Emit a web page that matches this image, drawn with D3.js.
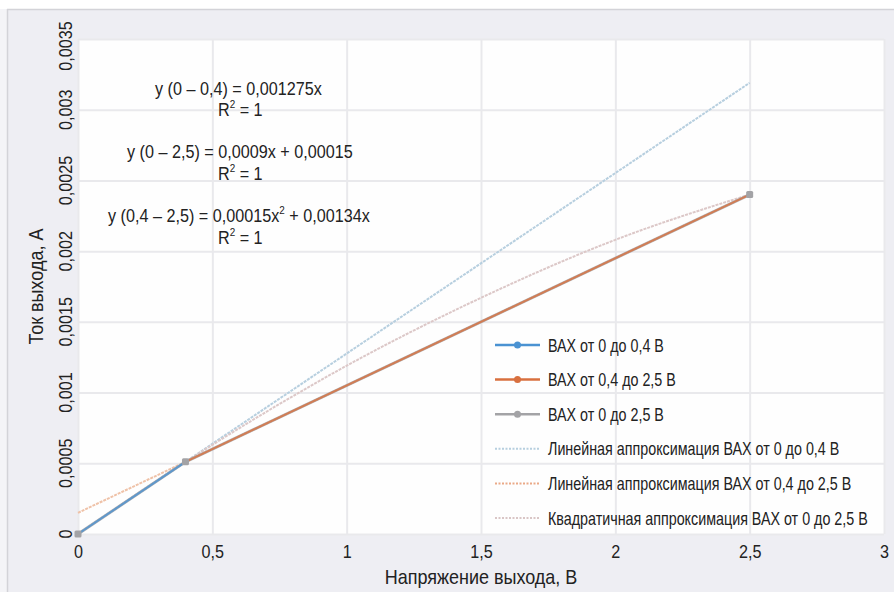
<!DOCTYPE html>
<html>
<head>
<meta charset="utf-8">
<script src="https://cdn.jsdelivr.net/npm/d3@7"></script>
<style>
  body { margin: 0; background: #fff; }
  svg text { font-family: "Liberation Sans", Arial, sans-serif; fill: #222; }
</style>
</head>
<body>
<svg id="chart"></svg>
<script>
// measured points (voltage, V / current, A)
let voltage = [0, 0.4, 2.5]
let current = [0, 0.00051, 0.0024]

// trendlines
let trendBlueX = [0, 2.5]
let trendBlueY = [0, 0.00319]
let trendOrangeX = [0, 2.5]
let trendOrangeY = [0.00015, 0.0024]
let trendQuadX = [0, 0.5, 1, 1.5, 2, 2.5]
let trendQuadY = [0, 0.00063, 0.00119, 0.00167, 0.00208, 0.0024]

let xTicks = [0, 0.5, 1, 1.5, 2, 2.5, 3]
let xTickLabels = ["0", "0,5", "1", "1,5", "2", "2,5", "3"]
let yTicks = [0, 0.0005, 0.001, 0.0015, 0.002, 0.0025, 0.003, 0.0035]
let yTickLabels = ["0", "0,0005", "0,001", "0,0015", "0,002", "0,0025", "0,003", "0,0035"]

let legendLabels = [
  "ВАХ от 0 до 0,4 В",
  "ВАХ от 0,4 до 2,5 В",
  "ВАХ от 0 до 2,5 В",
  "Линейная аппроксимация ВАХ от 0 до 0,4 В",
  "Линейная аппроксимация ВАХ от 0,4 до 2,5 В",
  "Квадратичная аппроксимация ВАХ от 0 до 2,5 В"
]

let
  width = 894,
  height = 592,
  plotLeft = 78,
  plotRight = 884,
  plotTop = 39,
  plotBottom = 534,
  fs = 18

let blue = "#4a92d2", orange = "#d8703f", gray = "#a3a3a6"

let svg = d3.select("#chart")
  .attr("width", width)
  .attr("height", height)

// page frame
svg.append("rect").attr("width", width).attr("height", height).attr("fill", "#eeeef3")
svg.append("rect").attr("width", width).attr("height", 9).attr("fill", "#ffffff")
svg.append("rect").attr("y", 9).attr("width", 7).attr("height", height).attr("fill", "#f4f4f7")
svg.append("line").attr("x1", 7).attr("x2", width).attr("y1", 9.5).attr("y2", 9.5)
  .attr("stroke", "#d3d3d8").attr("stroke-width", 1.5)
svg.append("line").attr("x1", 7.5).attr("x2", 7.5).attr("y1", 9).attr("y2", height)
  .attr("stroke", "#d3d3d8").attr("stroke-width", 1.5)

let x = d3.scaleLinear().domain([0, 3]).range([plotLeft, plotRight])
let y = d3.scaleLinear().domain([0, 0.0035]).range([plotBottom, plotTop])

svg.append("rect")
  .attr("x", plotLeft).attr("y", plotTop)
  .attr("width", plotRight - plotLeft).attr("height", plotBottom - plotTop)
  .attr("fill", "#fefefe")

// grid
svg.append("g")
  .attr("transform", `translate(0,${plotBottom})`)
  .call(d3.axisBottom(x).tickValues(xTicks).tickSize(-(plotBottom - plotTop)).tickFormat(""))
  .call(g => g.select(".domain").remove())
  .call(g => g.selectAll("line").attr("stroke", "#e9e9ec").attr("stroke-width", 2))

svg.append("g")
  .attr("transform", `translate(${plotLeft},0)`)
  .call(d3.axisLeft(y).tickValues(yTicks).tickSize(-(plotRight - plotLeft)).tickFormat(""))
  .call(g => g.select(".domain").remove())
  .call(g => g.selectAll("line").attr("stroke", "#e9e9ec").attr("stroke-width", 2))

// tick labels
svg.append("g")
  .attr("transform", `translate(0,${plotBottom})`)
  .call(d3.axisBottom(x).tickValues(xTicks).tickSize(0).tickPadding(0)
    .tickFormat((d, i) => xTickLabels[i]))
  .call(g => g.select(".domain").remove())
  .call(g => g.selectAll("text").attr("y", 24).attr("dy", 0)
    .attr("font-size", fs).attr("fill", "#222"))

svg.append("g").selectAll("text")
  .data(yTicks).enter()
  .append("text")
  .attr("transform", d => `translate(72,${Math.max(y(d), 46)}) rotate(-90)`)
  .attr("text-anchor", "middle")
  .attr("font-size", fs)
  .text((d, i) => yTickLabels[i])

// axis titles
svg.append("text")
  .attr("class", "title")
  .attr("x", (plotLeft + plotRight) / 2).attr("y", 584)
  .attr("text-anchor", "middle").attr("font-size", 20)
  .text("Напряжение выхода, В")

svg.append("text")
  .attr("class", "title")
  .attr("transform", `translate(43,${(plotTop + plotBottom) / 2}) rotate(-90)`)
  .attr("text-anchor", "middle").attr("font-size", 20)
  .text("Ток выхода, А")

let line = d3.line().x(d => x(d[0])).y(d => y(d[1]))
let zip = (xs, ys) => xs.map((v, i) => [v, ys[i]])

// trendlines
let trends = [
  {pts: zip(trendBlueX, trendBlueY), color: "#b7cfdf", curve: d3.curveLinear},
  {pts: zip(trendOrangeX, trendOrangeY), color: "#efc2a8", curve: d3.curveLinear},
  {pts: zip(trendQuadX, trendQuadY), color: "#dcc8c8", curve: d3.curveMonotoneX}
]

svg.append("g").selectAll("path")
  .data(trends).enter()
  .append("path")
  .attr("d", d => line.curve(d.curve)(d.pts))
  .attr("fill", "none")
  .attr("stroke", d => d.color)
  .attr("stroke-width", 2)
  .attr("stroke-dasharray", "3,1")

line.curve(d3.curveLinear)

// measured series
let all = zip(voltage, current)
let series = [
  {pts: all, color: gray, width: 3},
  {pts: all.slice(0, 2), color: blue, width: 2},
  {pts: all.slice(1, 3), color: orange, width: 2}
]

svg.append("g").selectAll("path")
  .data(series).enter()
  .append("path")
  .attr("d", d => line(d.pts))
  .attr("fill", "none")
  .attr("stroke", d => d.color)
  .attr("stroke-opacity", 0.8)
  .attr("stroke-width", d => d.width)

svg.append("g").selectAll("rect")
  .data(all).enter()
  .append("rect")
  .attr("x", d => x(d[0]) - 3.5)
  .attr("y", d => y(d[1]) - 3.5)
  .attr("width", 7).attr("height", 7)
  .attr("rx", 1.5)
  .attr("fill", gray)

// equations
let eq = svg.append("g").attr("font-size", fs)
let eqRows = [
  {x: 155, y: 95, parts: [["y (0 – 0,4) = 0,001275x"]]},
  {x: 218, y: 116, parts: [["R"], ["2", "sup"], [" = 1"]]},
  {x: 127, y: 158, parts: [["y (0 – 2,5) = 0,0009x + 0,00015"]]},
  {x: 218, y: 180, parts: [["R"], ["2", "sup"], [" = 1"]]},
  {x: 108, y: 222, parts: [["y (0,4 – 2,5) = 0,00015x"], ["2", "sup"], [" + 0,00134x"]]},
  {x: 218, y: 244, parts: [["R"], ["2", "sup"], [" = 1"]]}
]
eqRows.forEach(r => {
  let t = eq.append("text").attr("x", r.x).attr("y", r.y)
  r.parts.forEach(p => {
    let s = t.append("tspan").text(p[0])
    if (p[1] == "sup") s.attr("font-size", 11).attr("dy", -8)
    else if (t.selectAll("tspan").size() > 1) s.attr("dy", 8)
  })
})

// legend
let legend = svg.append("g").attr("transform", "translate(495,345)")
let styles = [
  {color: blue, marker: true, dash: null, w: 2.5},
  {color: orange, marker: true, dash: null, w: 2.5},
  {color: gray, marker: true, dash: null, w: 2.5},
  {color: "#b7cfdf", marker: false, dash: "2,1.5", w: 2},
  {color: "#eaa987", marker: false, dash: "2,1.5", w: 2},
  {color: "#d9c6c6", marker: false, dash: "2,1.5", w: 2}
]
let rows = legend.selectAll("g")
  .data(legendLabels).enter()
  .append("g")
  .attr("transform", (d, i) => `translate(0,${i * 34.6})`)

rows.append("line")
  .attr("x1", 0).attr("x2", 45)
  .attr("stroke", (d, i) => styles[i].color)
  .attr("stroke-width", (d, i) => styles[i].w)
  .attr("stroke-dasharray", (d, i) => styles[i].dash)

rows.filter((d, i) => styles[i].marker)
  .append("circle")
  .attr("cx", 22.5).attr("r", 3.5)
  .attr("fill", (d, i) => [blue, orange, gray][i])

rows.append("text")
  .attr("class", "legend")
  .attr("x", 53).attr("y", 6.5)
  .attr("font-size", fs)
  .text(d => d)

// the original uses a condensed face: squeeze every text horizontally
let probe = svg.append("text").attr("font-size", fs).text(legendLabels[5])
let squeeze = 320 / probe.node().getComputedTextLength()
probe.remove()
svg.selectAll("text").each(function() {
  let t = d3.select(this)
  let k = t.classed("title") ? 0.9 : t.classed("legend") ? squeeze : squeeze * 1.13
  let tr = t.attr("transform")
  if (tr) t.attr("transform", `${tr} scale(${k},1)`)
  else {
    let tx = +t.attr("x") || 0
    t.attr("transform", `translate(${tx * (1 - k)},0) scale(${k},1)`)
  }
})
</script>
</body>
</html>
